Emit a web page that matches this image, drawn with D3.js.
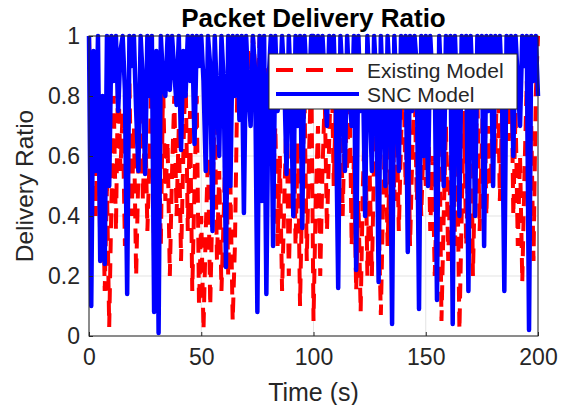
<!DOCTYPE html>
<html>
<head>
<meta charset="utf-8">
<script src="https://cdn.jsdelivr.net/npm/d3@7"></script>
<style>
  body { margin: 0; background: #fff; }
  text { font-family: "Liberation Sans", Arial, sans-serif; }
</style>
</head>
<body>
<div id="chart"></div>
<script>
// series values, one per second (t = 0..200)
var existingModel = [
  1, 0.7, 0.95, 0.4, 0.85, 0.3, 0.6, 0.15, 0.5, 0.03,
  0.45, 0.8, 0.35, 0.9, 0.55, 0.75, 0.3, 0.65, 0.85, 0.4,
  0.7, 0.2, 0.55, 0.9, 0.45, 0.75, 0.35, 0.6, 0.95, 0.25,
  0.5, 0.7, 0.3, 0.85, 0.45, 0.65, 0.2, 0.55, 0.8, 0.4,
  0.7, 0.25, 0.6, 0.9, 0.35, 0.75, 0.15, 0.5, 0.8, 0.1,
  0.4, 0.02, 0.35, 0.6, 0.1, 0.45, 0.75, 0.25, 0.55, 0.15,
  0.4, 0.7, 0.2, 0.5, 0.05, 0.3, 0.8, 1, 0.85, 1,
  0.75, 0.95, 0.8, 1, 0.9, 0.7, 1, 0.85, 0.65, 0.9,
  0.6, 0.8, 0.5, 0.7, 0.3, 0.6, 0.15, 0.45, 0.75, 0.2,
  0.55, 0.85, 0.3, 0.65, 0.1, 0.5, 0.8, 0.25, 0.6, 0.9,
  0.05, 0.45, 0.7, 0.2, 0.55, 0.8, 0.35, 0.65, 0.95, 0.5,
  0.8, 0.6, 0.9, 0.4, 0.75, 0.55, 0.85, 0.3, 0.6, 0.15,
  0.45, 0.08, 0.5, 0.75, 0.2, 0.55, 0.2, 0.6, 0.85, 0.4,
  0.07, 0.45, 0.7, 0.3, 0.6, 0.9, 0.45, 0.75, 0.35, 0.65,
  0.9, 0.5, 0.8, 0.3, 0.6, 0.85, 0.45, 0.7, 0.4, 0.65,
  0.5, 0.8, 0.35, 0.6, 0.2, 0.5, 0.75, 0.05, 0.4, 0.7,
  0.25, 0.55, 0.85, 0.3, 0.6, 0.02, 0.4, 0.75, 0.3, 0.6,
  0.9, 0.2, 0.55, 0.8, 0.35, 0.65, 0.9, 0.4, 0.7, 0.5,
  0.85, 0.6, 0.95, 0.45, 0.75, 0.55, 0.9, 0.65, 1, 0.4,
  0.75, 0.3, 0.6, 0.18, 0.55, 0.85, 0.4, 0.7, 0.25, 0.8,
  1
];
var sncModel = [
  1, 0.1, 0.95, 0.55, 1, 0.25, 0.8, 0.24, 1, 0.5,
  1, 0.85, 1, 0.75, 0.95, 1, 0.82, 0.14, 1, 0.9,
  1, 0.75, 0.55, 1, 0.85, 0.54, 1, 0.8, 1, 0.08,
  0.95, 0.01, 1, 0.85, 0.8, 1, 0.82, 1, 0.88, 0.77,
  1, 0.62, 0.95, 0.8, 1, 0.85, 1, 0.64, 1, 0.9,
  1, 0.85, 0.55, 1, 0.9, 0.35, 1, 0.8, 0.6, 1,
  0.85, 0.23, 1, 0.5, 1, 0.8, 1, 0.72, 1, 0.41,
  1, 0.82, 0.7, 1, 0.88, 0.08, 1, 0.45, 1, 0.14,
  0.85, 1, 0.3, 1, 0.75, 0.8, 1, 0.85, 0.54, 1,
  0.8, 0.4, 1, 0.7, 1, 0.36, 1, 0.85, 0.8, 1,
  1, 0.9, 1, 0.8, 1, 0.85, 0.7, 1, 0.88, 1,
  0.75, 0.16, 1, 0.85, 0.55, 1, 0.8, 0.7, 1, 0.22,
  1, 0.75, 0.9, 0.4, 1, 0.8, 0.55, 1, 0.85, 0.18,
  1, 0.78, 0.5, 1, 0.85, 0.04, 1, 0.8, 0.55, 1,
  0.85, 1, 0.28, 1, 0.75, 1, 0.9, 0.09, 1, 0.6,
  1, 0.5, 1, 0.85, 0.9, 0.12, 1, 0.8, 0.5, 1,
  0.85, 1, 0.04, 1, 0.78, 0.4, 1, 0.88, 1, 0.15,
  1, 0.8, 0.4, 1, 0.9, 1, 0.3, 1, 0.75, 1,
  0.5, 1, 0.85, 1, 0.8, 0.15, 1, 0.9, 1, 0.6,
  1, 0.85, 0.7, 1, 0.9, 1, 0.02, 1, 0.85, 1,
  0.8
];
var xTicks = [0, 50, 100, 150, 200];
var yTicks = [0, 0.2, 0.4, 0.6, 0.8, 1];
var seriesNames = ["Existing Model", "SNC Model"];

function draw() {
    var w = 567, h = 405;
    var margin = { left: 89, right: 29, top: 36, bottom: 69 };

    var svg = d3.select("#chart").append("svg")
        .attr("width", w)
        .attr("height", h);

    var x = d3.scaleLinear().domain([0, 200]).range([margin.left, w - margin.right]);
    var y = d3.scaleLinear().domain([0, 1]).range([h - margin.bottom, margin.top]);

    // grid
    svg.append("g").selectAll("line")
        .data(xTicks).enter().append("line")
        .attr("x1", d => x(d)).attr("x2", d => x(d))
        .attr("y1", y(0)).attr("y2", y(1))
        .attr("stroke", "#e3e3e3").attr("stroke-width", 1);
    svg.append("g").selectAll("line")
        .data(yTicks).enter().append("line")
        .attr("x1", x(0)).attr("x2", x(200))
        .attr("y1", d => y(d)).attr("y2", d => y(d))
        .attr("stroke", "#e3e3e3").attr("stroke-width", 1);

    var line = d3.line()
        .x((d, i) => x(i))
        .y(d => y(d));

    svg.append("path")
        .datum(existingModel)
        .attr("d", line)
        .attr("fill", "none")
        .attr("stroke", "#ff0000")
        .attr("stroke-width", 4)
        .attr("stroke-dasharray", "15,10");

    svg.append("path")
        .datum(sncModel)
        .attr("d", line)
        .attr("fill", "none")
        .attr("stroke", "#0000ff")
        .attr("stroke-width", 4.5)
        .attr("stroke-linejoin", "round");

    // axes box
    svg.append("rect")
        .attr("x", x(0)).attr("y", y(1))
        .attr("width", x(200) - x(0)).attr("height", y(0) - y(1))
        .attr("fill", "none").attr("stroke", "#262626").attr("stroke-width", 1);

    var xAxis = d3.axisBottom(x).tickValues(xTicks).tickSize(-4).tickPadding(13).tickFormat(d3.format("d"));
    var gx = svg.append("g").attr("transform", "translate(0," + y(0) + ")").call(xAxis);
    var yAxis = d3.axisLeft(y).tickValues(yTicks).tickSize(-4).tickPadding(9).tickFormat(d => d === 0 || d === 1 ? d : d3.format(".1f")(d));
    var gy = svg.append("g").attr("transform", "translate(" + x(0) + ",0)").call(yAxis);
    [gx, gy].forEach(function(g) {
        g.select(".domain").remove();
        g.selectAll("line").attr("stroke", "#262626");
        g.selectAll("text")
            .attr("fill", "#262626")
            .style("font-size", "23px")
            .style("font-family", "Liberation Sans, Arial, sans-serif");
    });

    // title and labels
    svg.append("text")
        .attr("x", (x(0) + x(200)) / 2).attr("y", 27)
        .attr("text-anchor", "middle")
        .attr("font-size", "26px").attr("font-weight", "bold")
        .attr("fill", "#000")
        .text("Packet Delivery Ratio");
    svg.append("text")
        .attr("x", (x(0) + x(200)) / 2).attr("y", 401)
        .attr("text-anchor", "middle")
        .attr("font-size", "25px").attr("fill", "#262626")
        .text("Time (s)");
    svg.append("text")
        .attr("transform", "translate(33," + ((y(0) + y(1)) / 2) + ") rotate(-90)")
        .attr("text-anchor", "middle")
        .attr("font-size", "24.5px").attr("fill", "#262626")
        .text("Delivery Ratio");

    // legend
    var lg = svg.append("g").attr("transform", "translate(269,54)");
    lg.append("rect")
        .attr("width", 248).attr("height", 55)
        .attr("fill", "#fff").attr("stroke", "#262626").attr("stroke-width", 1);
    var styles = [
        { color: "#ff0000", dash: "17,13", width: 4 },
        { color: "#0000ff", dash: null, width: 4 }
    ];
    seriesNames.forEach(function(name, i) {
        var yy = 16 + i * 24;
        lg.append("line")
            .attr("x1", 7).attr("x2", 90)
            .attr("y1", yy).attr("y2", yy)
            .attr("stroke", styles[i].color)
            .attr("stroke-width", styles[i].width)
            .attr("stroke-dasharray", styles[i].dash);
        lg.append("text")
            .attr("x", 98).attr("y", yy + 7.5)
            .attr("font-size", "21px").attr("fill", "#262626")
            .text(name);
    });
}

window.onload = draw;
</script>
</body>
</html>
